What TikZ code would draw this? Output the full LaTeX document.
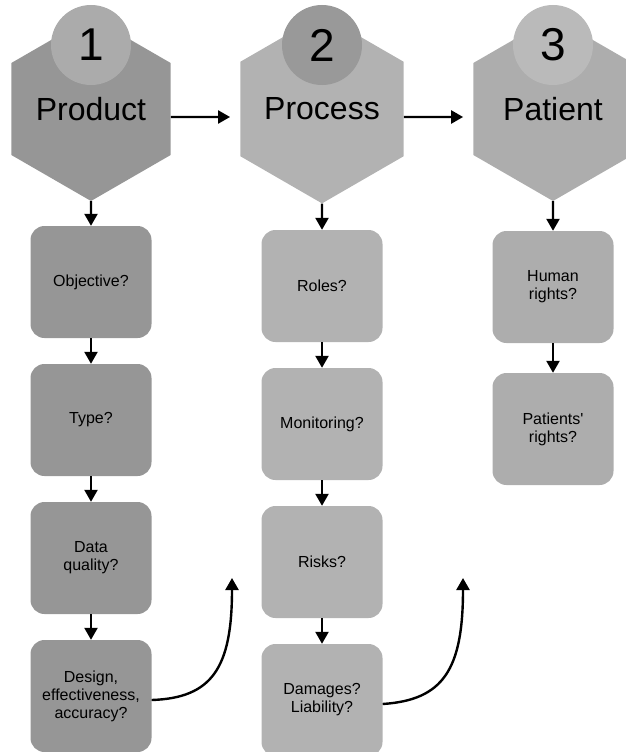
\documentclass[tikz,border=0pt]{standalone}
\usepackage{fontspec}
\setmainfont{Liberation Sans}
\usetikzlibrary{shapes.geometric, arrows.meta}
\definecolor{prodgray}{gray}{0.59}
\definecolor{prodcirc}{gray}{0.67}
\definecolor{procgray}{gray}{0.70}
\definecolor{proccirc}{gray}{0.60}
\definecolor{patgray}{gray}{0.68}
\definecolor{patcirc}{gray}{0.73}
\tikzstyle{hexa} = [regular polygon, regular polygon sides=6, shape border rotate=30, minimum size=184pt, inner sep=0pt, font=\fontsize{32}{38}\selectfont]
\tikzstyle{numcircle} = [circle, minimum size=80pt, inner sep=0pt, font=\fontsize{46}{50}\selectfont]
\tikzstyle{question} = [rectangle, rounded corners=14pt, minimum width=121pt, minimum height=112pt, align=center, font=\fontsize{16}{18}\selectfont]
\tikzstyle{arrow} = [line width=2.4pt, -{Triangle[length=12pt,width=13pt]}]
\begin{document}
\begin{tikzpicture}[x=1pt, y=-1pt, node distance=138pt]
\useasboundingbox (0,0) rectangle (626,752);
\node (product) [hexa, fill=prodgray] at (91,109) {Product};
\node (process) [hexa, fill=procgray] at (322,109) {Process};
\node (patient) [hexa, fill=patgray] at (553,109) {Patient};
\node (num1) [numcircle, fill=prodcirc] at (91,45) {\raisebox{-3pt}{1}};
\node (num2) [numcircle, fill=proccirc] at (322,45) {\raisebox{-3pt}{2}};
\node (num3) [numcircle, fill=patcirc] at (553,45) {\raisebox{-3pt}{3}};

\node (objective) [question, fill=prodgray, below of=product, yshift=-35pt] {Objective?};
\node (type) [question, fill=prodgray, below of=objective] {Type?};
\node (quality) [question, fill=prodgray, below of=type] {Data\\quality?};
\node (design) [question, fill=prodgray, below of=quality] {Design,\\effectiveness,\\accuracy?};

\node (roles) [question, fill=procgray, below of=process, yshift=-39pt] {Roles?};
\node (monitoring) [question, fill=procgray, below of=roles] {Monitoring?};
\node (risks) [question, fill=procgray, below of=monitoring] {Risks?};
\node (damages) [question, fill=procgray, below of=risks] {Damages?\\Liability?};

\node (human) [question, fill=patgray, below of=patient, yshift=-40pt] {Human\\rights?};
\node (prights) [question, fill=patgray, below of=human, yshift=-4pt] {Patients\textquotesingle\\rights?};

\coordinate (up1) at (232,578);
\coordinate (up2) at (463,578);

\draw [arrow] ([yshift=-8pt]product.east) -- ([yshift=-8pt,xshift=-10pt]process.west);
\draw [arrow] ([yshift=-8pt]process.east) -- ([yshift=-8pt,xshift=-10pt]patient.west);
\draw [arrow] (product.south) -- (objective.north);
\draw [arrow] (objective) -- (type);
\draw [arrow] (type) -- (quality);
\draw [arrow] (quality) -- (design);
\draw [arrow] (process.south) -- (roles.north);
\draw [arrow] (roles) -- (monitoring);
\draw [arrow] (monitoring) -- (risks);
\draw [arrow] (risks) -- (damages);
\draw [arrow] (patient.south) -- (human.north);
\draw [arrow] (human) -- (prights);
\draw [arrow] ([yshift=-4pt]design.east) .. controls (212,698) and (232,668) .. (up1);
\draw [arrow] ([yshift=-4pt]damages.east) .. controls (443,700) and (463,670) .. (up2);
\end{tikzpicture}
\end{document}
